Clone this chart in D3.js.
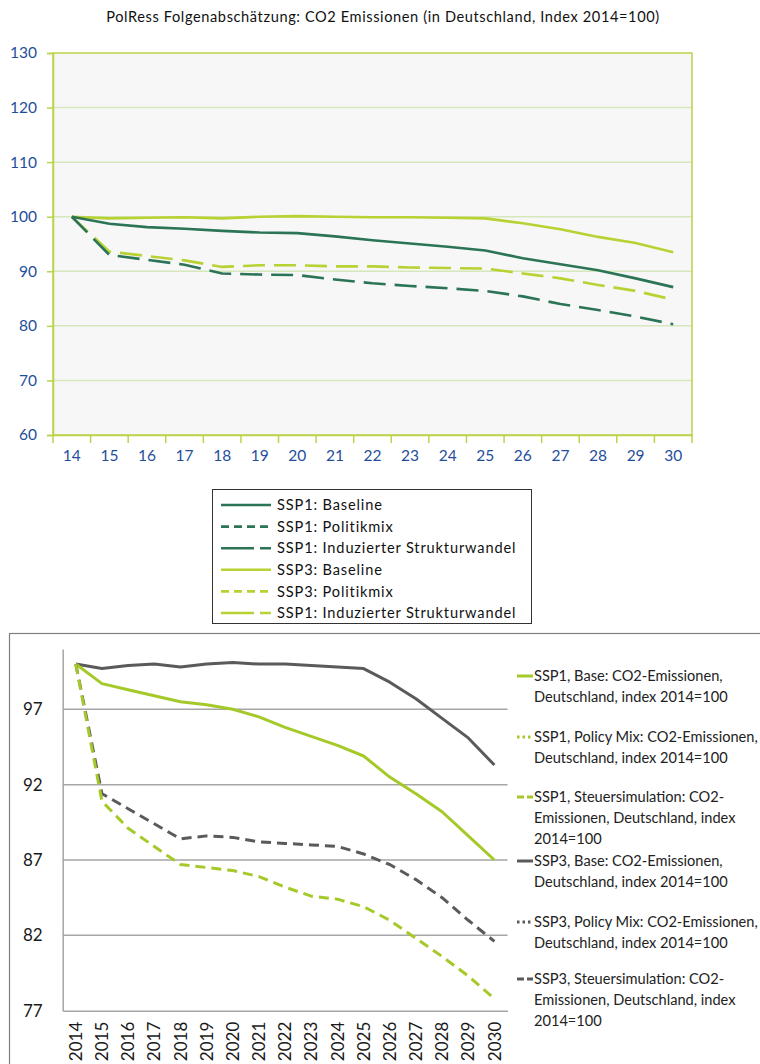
<!DOCTYPE html>
<html>
<head>
<meta charset="utf-8">
<script src="https://cdn.jsdelivr.net/npm/d3@7"></script>
<style>
  html, body { margin: 0; padding: 0; background: #fff; }
  svg { display: block; font-family: Lato, "Open Sans", sans-serif; }
</style>
</head>
<body>
<svg id="chart" width="760" height="1064"></svg>
<script>
// ---- Upper chart: PolRess impact assessment (short year labels) ----
const topTitle = "PolRess Folgenabschätzung: CO2 Emissionen (in Deutschland, Index 2014=100)";
const topYears = ["14","15","16","17","18","19","20","21","22","23","24","25","26","27","28","29","30"];
const topTicks = [60, 70, 80, 90, 100, 110, 120, 130];
const ssp1Baseline = [100, 98.7, 98.1, 97.8, 97.4, 97.1, 97.0, 96.4, 95.7, 95.1, 94.5, 93.8, 92.4, 91.3, 90.2, 88.7, 87.1];
const ssp1Struktur = [100, 93.0, 92.1, 91.2, 89.6, 89.4, 89.3, 88.5, 87.8, 87.3, 86.9, 86.4, 85.4, 84.0, 82.9, 81.7, 80.3];
const ssp3Baseline = [100, 99.7, 99.8, 99.9, 99.7, 100.0, 100.1, 100.0, 99.9, 99.9, 99.8, 99.7, 98.8, 97.7, 96.3, 95.2, 93.5];
const ssp3Struktur = [100, 93.6, 92.8, 92.0, 90.8, 91.1, 91.1, 90.9, 90.9, 90.7, 90.6, 90.5, 89.6, 88.7, 87.5, 86.4, 84.8];
const topLegendLabels = [
  "SSP1: Baseline", "SSP1: Politikmix", "SSP1: Induzierter Strukturwandel",
  "SSP3: Baseline", "SSP3: Politikmix", "SSP1: Induzierter Strukturwandel"
];

// ---- Lower chart: tax simulation comparison ----
const lowYears = ["2014","2015","2016","2017","2018","2019","2020","2021","2022","2023","2024","2025","2026","2027","2028","2029","2030"];
const lowTicks = [77, 82, 87, 92, 97];
const ssp1Base  = [100, 98.7, 98.3, 97.9, 97.5, 97.3, 97.0, 96.5, 95.8, 95.2, 94.6, 93.9, 92.5, 91.4, 90.2, 88.6, 87.0];
const ssp1Steuer = [100, 90.9, 89.1, 87.9, 86.7, 86.5, 86.3, 85.9, 85.2, 84.6, 84.4, 83.9, 83.0, 81.8, 80.6, 79.3, 77.8];
const ssp3Base  = [100, 99.7, 99.9, 100.0, 99.8, 100.0, 100.1, 100.0, 100.0, 99.9, 99.8, 99.7, 98.8, 97.7, 96.4, 95.1, 93.3];
const ssp3Steuer = [100, 91.4, 90.4, 89.4, 88.4, 88.6, 88.5, 88.2, 88.1, 88.0, 87.9, 87.4, 86.7, 85.7, 84.5, 83.0, 81.6];
const lowLegendLabels = [
  ["SSP1, Base: CO2-Emissionen,", "Deutschland, index 2014=100"],
  ["SSP1, Policy Mix: CO2-Emissionen,", "Deutschland, index 2014=100"],
  ["SSP1, Steuersimulation: CO2-", "Emissionen, Deutschland, index", "2014=100"],
  ["SSP3, Base: CO2-Emissionen,", "Deutschland, index 2014=100"],
  ["SSP3, Policy Mix: CO2-Emissionen,", "Deutschland, index 2014=100"],
  ["SSP3, Steuersimulation: CO2-", "Emissionen, Deutschland, index", "2014=100"]
];

const svg = d3.select("#chart");

// ================= Upper chart =================
const DARK = "#2b7456", LIME = "#b7d232", AXIS_G = "#bcd34a", GRID_G = "#d6e7bb", BLUE = "#1f4e9b";
const tp = { left: 53, right: 692, top: 53, bottom: 435 };

svg.append("text")
  .attr("x", 383).attr("y", 22)
  .attr("text-anchor", "middle")
  .attr("font-size", 14.6).attr("letter-spacing", 0.6).attr("fill", "#111")
  .text(topTitle);

const tx = d3.scaleBand().domain(topYears).range([tp.left, tp.right]);
const ty = d3.scaleLinear().domain([60, 130]).range([tp.bottom, tp.top]);

svg.append("rect")
  .attr("x", tp.left).attr("y", tp.top)
  .attr("width", tp.right - tp.left).attr("height", tp.bottom - tp.top)
  .attr("fill", "#f7f7f7");

svg.append("g").selectAll("line")
  .data(topTicks.slice(1, -1)).join("line")
  .attr("x1", tp.left).attr("x2", tp.right)
  .attr("y1", d => ty(d)).attr("y2", d => ty(d))
  .attr("stroke", GRID_G).attr("stroke-width", 1.5);

svg.append("rect")
  .attr("x", tp.left).attr("y", tp.top)
  .attr("width", tp.right - tp.left).attr("height", tp.bottom - tp.top)
  .attr("fill", "none").attr("stroke", AXIS_G).attr("stroke-width", 1.5);

const tyAxis = svg.append("g")
  .attr("transform", `translate(${tp.left},0)`)
  .call(d3.axisLeft(ty).tickValues(topTicks).tickSize(6).tickPadding(10));
tyAxis.select(".domain").attr("stroke", AXIS_G).attr("stroke-width", 1.5);
tyAxis.selectAll(".tick line").attr("stroke", AXIS_G).attr("stroke-width", 1.5);
tyAxis.selectAll(".tick text").attr("fill", BLUE).attr("font-size", 15.5).attr("font-family", "Lato");

// category boundary ticks along the bottom edge
const txAxis = svg.append("g")
  .attr("transform", `translate(0,${tp.bottom})`)
  .call(d3.axisBottom(tx).tickSize(0).tickPadding(15));
txAxis.select(".domain").attr("stroke", AXIS_G).attr("stroke-width", 1.5);
txAxis.selectAll(".tick text").attr("fill", BLUE).attr("font-size", 15.5).attr("font-family", "Lato");
svg.append("g").selectAll("line")
  .data(d3.range(topYears.length + 1)).join("line")
  .attr("x1", i => tp.left + i * tx.step()).attr("x2", i => tp.left + i * tx.step())
  .attr("y1", tp.bottom).attr("y2", tp.bottom + 8)
  .attr("stroke", AXIS_G).attr("stroke-width", 1.5);

const topLine = d3.line().x((d, i) => tx(topYears[i]) + tx.bandwidth() / 2).y(d => ty(d));
const topSeries = [
  { values: ssp3Baseline, color: LIME, dash: null },
  { values: ssp3Struktur, color: LIME, dash: "22,9" },
  { values: ssp1Baseline, color: DARK, dash: null },
  { values: ssp1Struktur, color: DARK, dash: "22,9" }
];
svg.append("g").selectAll("path")
  .data(topSeries).join("path")
  .attr("d", s => topLine(s.values))
  .attr("fill", "none")
  .attr("stroke", s => s.color)
  .attr("stroke-width", 2.6)
  .attr("stroke-dasharray", s => s.dash);

// legend box
const tl = { x: 212.5, y: 489.5, w: 319, h: 134 };
svg.append("rect")
  .attr("x", tl.x).attr("y", tl.y).attr("width", tl.w).attr("height", tl.h)
  .attr("fill", "#fff").attr("stroke", "#333").attr("stroke-width", 1);
const topLegendStyles = [
  { color: DARK, dash: null }, { color: DARK, dash: "8,5" }, { color: DARK, dash: "33,6" },
  { color: LIME, dash: null }, { color: LIME, dash: "8,5" }, { color: LIME, dash: "33,6" }
];
const tlg = svg.append("g").selectAll("g")
  .data(topLegendLabels).join("g")
  .attr("transform", (d, i) => `translate(0,${505 + i * 21.6})`);
tlg.append("line")
  .attr("x1", 221).attr("x2", 271).attr("y1", 0).attr("y2", 0)
  .attr("stroke", (d, i) => topLegendStyles[i].color)
  .attr("stroke-width", 2.6)
  .attr("stroke-dasharray", (d, i) => topLegendStyles[i].dash);
tlg.append("text")
  .attr("x", 277).attr("y", 0).attr("dy", "0.35em")
  .attr("font-size", 14.6).attr("letter-spacing", 0.85).attr("fill", "#111")
  .text(d => d);

// ================= Lower chart =================
const GREEN2 = "#a6c92a", GRAY2 = "#5a5a5a", GRID2 = "#a6a6a6";
const lp = { left: 62.7, right: 507.5, top: 649, bottom: 1010.7 };

svg.append("rect")
  .attr("x", 9.5).attr("y", 633.5).attr("width", 780).attr("height", 460)
  .attr("fill", "none").attr("stroke", "#7f7f7f").attr("stroke-width", 1.2);

const lx = d3.scaleBand().domain(lowYears).range([lp.left, lp.right]);
const ly = d3.scaleLinear().domain([77, 101]).range([lp.bottom, lp.top]);

svg.append("g").selectAll("line")
  .data(lowTicks.slice(1)).join("line")
  .attr("x1", lp.left).attr("x2", lp.right)
  .attr("y1", d => ly(d)).attr("y2", d => ly(d))
  .attr("stroke", GRID2).attr("stroke-width", 1.5);

const lyAxis = svg.append("g")
  .attr("transform", `translate(${lp.left},0)`)
  .call(d3.axisLeft(ly).tickValues(lowTicks).tickSize(0).tickPadding(20));
lyAxis.select(".domain").attr("stroke", GRID2).attr("stroke-width", 1.5);
lyAxis.selectAll(".tick text").attr("fill", "#1a1a1a").attr("font-size", 17).attr("font-family", "Lato");

const lxAxis = svg.append("g")
  .attr("transform", `translate(0,${lp.bottom})`)
  .call(d3.axisBottom(lx).tickSize(0));
lxAxis.select(".domain").attr("stroke", GRID2).attr("stroke-width", 1.5);
lxAxis.selectAll(".tick text")
  .attr("fill", "#1a1a1a").attr("font-size", 17).attr("font-family", "Lato")
  .attr("text-anchor", "end")
  .attr("transform", "rotate(-90)")
  .attr("x", -11).attr("y", 0).attr("dy", "0.36em");

const lowLine = d3.line().x((d, i) => lx(lowYears[i]) + lx.bandwidth() / 2).y(d => ly(d));
const lowSeries = [
  { values: ssp3Base, color: GRAY2, dash: null },
  { values: ssp1Base, color: GREEN2, dash: null },
  { values: ssp3Steuer, color: GRAY2, dash: "10,6" },
  { values: ssp1Steuer, color: GREEN2, dash: "10,6" }
];
svg.append("g").selectAll("path")
  .data(lowSeries).join("path")
  .attr("d", s => lowLine(s.values))
  .attr("fill", "none")
  .attr("stroke", s => s.color)
  .attr("stroke-width", 3)
  .attr("stroke-linejoin", "round")
  .attr("stroke-dasharray", s => s.dash);

// legend on the right
const lowLegendStyles = [
  { color: GREEN2, dash: null }, { color: GREEN2, dash: "2.5,3" }, { color: GREEN2, dash: "7,3" },
  { color: GRAY2, dash: null }, { color: GRAY2, dash: "2.5,3" }, { color: GRAY2, dash: "7,3" }
];
const lowLegendY = [676, 737, 797, 861, 922, 979];
const llg = svg.append("g").selectAll("g")
  .data(lowLegendLabels).join("g")
  .attr("transform", (d, i) => `translate(0,${lowLegendY[i]})`);
llg.append("line")
  .attr("x1", 517).attr("x2", 533).attr("y1", 0).attr("y2", 0)
  .attr("stroke", (d, i) => lowLegendStyles[i].color)
  .attr("stroke-width", 3)
  .attr("stroke-dasharray", (d, i) => lowLegendStyles[i].dash);
llg.append("text")
  .attr("x", 534).attr("y", 0)
  .attr("font-size", 14.6).attr("fill", "#222")
  .selectAll("tspan").data(d => d).join("tspan")
  .attr("x", 534).attr("y", (d, i) => i * 21).attr("dy", "0.35em")
  .text(d => d);
</script>
</body>
</html>
